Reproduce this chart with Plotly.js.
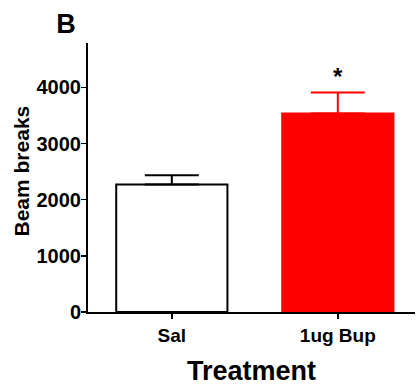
<!DOCTYPE html>
<html>
<head>
<meta charset="utf-8">
<script src="https://cdn.plot.ly/plotly-3.0.1.min.js"></script>
<style>html,body{margin:0;padding:0;background:#fff;}#chart{width:419px;height:386px;}</style>
</head>
<body>
<div id="chart"></div>
<script>
const categories = ["Sal", "1ug Bup"];
const means = [2272, 3535];
const sem = [165, 374];
const fillColors = ["#ffffff", "#ff0000"];
const lineColors = ["#000000", "#ff0000"];
const significance = ["", "*"];
const yTicks = [0, 1000, 2000, 3000, 4000];
const yTitle = "Beam breaks";

const FONT = "Liberation Sans, Arial, sans-serif";

const traces = categories.map((c, i) => ({
  type: "bar",
  x: [i],
  y: [means[i]],
  width: 0.67,
  marker: {color: fillColors[i], line: {color: lineColors[i], width: 2}},
  error_y: {type: "data", symmetric: false, array: [sem[i]], arrayminus: [0],
            color: lineColors[i], thickness: 2, width: 27},
  showlegend: false,
  hoverinfo: "skip"
}));

const annotations = significance.map((s, i) => ({
  x: i, y: means[i] + sem[i], text: s, showarrow: false,
  yanchor: "bottom", yshift: 0,
  font: {family: FONT, size: 24, color: "#000", weight: "bold"}
})).filter(a => a.text);

// y-axis title placed as a rotated annotation (paper coordinates)
annotations.push({
  xref: "paper", yref: "paper", x: (21 - 88) / 327, y: (312 - 171.5) / 269,
  xanchor: "center", yanchor: "middle", textangle: -90, showarrow: false,
  text: yTitle, font: {family: FONT, size: 21, weight: "bold", color: "#000"}
});

const layout = {
  width: 419, height: 386,
  margin: {l: 88, r: 4, t: 43, b: 74},
  paper_bgcolor: "#fff", plot_bgcolor: "#fff",
  font: {family: FONT, color: "#000"},
  title: {text: "B", x: 66/419, xanchor: "center", y: 1 - 24/386, yanchor: "middle",
          font: {family: FONT, size: 27, color: "#000", weight: "bold"}},
  xaxis: {
    range: [-0.505, 1.465], tickvals: [0, 1], ticktext: categories,
    showline: true, linecolor: "#000", linewidth: 2, ticks: "outside", ticklen: 5, tickwidth: 1.5,
    tickcolor: "#000", showgrid: false, zeroline: false,
    tickfont: {family: FONT, size: 19, weight: "bold", color: "#000"},
    title: {text: "Treatment", font: {family: FONT, size: 27, weight: "bold", color: "#000"}, standoff: 22}
  },
  yaxis: {
    range: [0, 4790], tickvals: yTicks, ticktext: yTicks.map(String),
    showline: true, linecolor: "#000", linewidth: 2, ticks: "outside", ticklen: 5, tickwidth: 1.5,
    tickcolor: "#000", showgrid: false, zeroline: false, ticklabelstandoff: -4,
    tickfont: {family: FONT, size: 20, weight: "bold", color: "#000"}
  },
  annotations: annotations,
  bargap: 0
};

Plotly.newPlot("chart", traces, layout, {displayModeBar: false, staticPlot: true});
</script>
</body>
</html>
